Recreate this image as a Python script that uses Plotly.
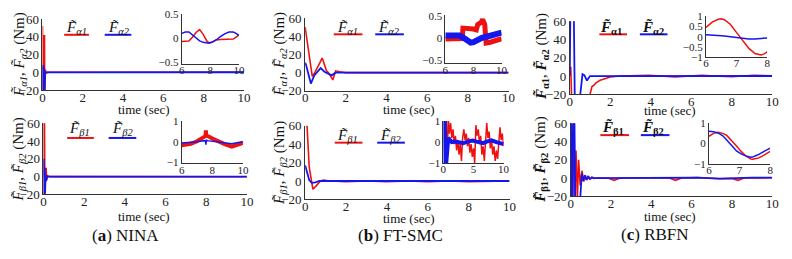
import plotly.graph_objects as go

W, H = 792, 259
RED = "#ee1111"
BLUE = "#1515ee"
SERIF = "Liberation Serif"

# ------------------------------------------------------------------ data
# (a) NINA – alpha forces (main)
t_a_alpha_red = [0, 0.01, 0.05, 0.06, 0.10, 0.11, 0.14, 0.18, 0.25, 1, 2, 3, 4, 5, 6, 7.25, 7.9, 9, 10]
f_a_alpha_red = [52, -25, -25, 41, 41, -25, 3, -1, 0, 0, 0, 0, 0, 0, -0.07, 0.18, -0.1, -0.03, 0.07]
t_a_alpha_blue = [0, 0.02, 0.04, 0.06, 0.08, 0.10, 0.13, 0.2, 1, 2, 3, 4, 5, 6, 6.5, 7.9, 9.5, 10]
f_a_alpha_blue = [8, -25, 8, -25, 5, -25, 0, 0, 0, 0, 0, 0, 0, 0.1, 0.13, -0.11, 0.13, 0.06]
# (a) alpha inset
t_a_alpha_zoom = [6, 6.25, 6.5, 6.75, 7.0, 7.25, 7.5, 7.75, 7.9, 8.1, 8.4, 8.7, 9.0, 9.3, 9.6, 9.8, 10]
f_a_alpha_red_zoom = [-0.07, -0.07, -0.06, 0.02, 0.12, 0.18, 0.08, -0.06, -0.1, -0.09, -0.04, -0.03, -0.03, -0.03, -0.02, 0.02, 0.07]
f_a_alpha_blue_zoom = [0.1, 0.13, 0.13, 0.07, -0.01, -0.06, -0.09, -0.11, -0.11, -0.09, -0.04, 0.03, 0.09, 0.13, 0.13, 0.1, 0.06]

# (a) NINA – beta forces (main)
t_a_beta_red = [0, 0.01, 0.03, 0.05, 0.07, 0.10, 0.13, 0.16, 0.2, 0.3, 1, 2, 3, 4, 5, 6, 7.66, 9.27, 10]
f_a_beta_red = [0, 65, -25, 65, -25, 0, 10, -4, 1, 0, 0, 0, 0, 0, 0, -0.17, 0.3, -0.24, -0.06]
t_a_beta_blue = [0, 0.02, 0.04, 0.06, 0.08, 0.10, 0.13, 0.16, 0.3, 1, 2, 3, 4, 5, 6, 7.66, 9.3, 10]
f_a_beta_blue = [0, 20, -25, 10, -18, 3, -5, 0, 0, 0, 0, 0, 0, 0, -0.06, 0.05, -0.1, 0]
# (a) beta inset
t_a_beta_zoom = [6, 6.3, 6.6, 7.0, 7.3, 7.55, 7.58, 7.61, 7.66, 8.0, 8.4, 8.8, 9.27, 9.6, 10]
f_a_beta_red_zoom = [-0.17, -0.15, -0.1, 0.02, 0.15, 0.27, 0.55, 0.25, 0.29, 0.15, 0.0, -0.12, -0.24, -0.15, -0.06]
f_a_beta_blue_zoom = [-0.06, -0.05, -0.03, 0.0, 0.03, 0.05, -0.15, 0.1, 0.05, 0.02, -0.03, -0.08, -0.1, -0.05, 0.0]

# (b) FT-SMC – alpha forces (main)
t_b_alpha_red = [0, 0.35, 0.45, 0.84, 1.05, 1.15, 1.36, 1.5, 1.7, 2.0, 3, 4, 5, 6, 7.25, 8.65, 8.85, 10]
f_b_alpha_red = [50, -4, -1, 16, 2, 0, -8, 2, 1, 0, 0, 0, 0, 0, 0.22, 0.42, -0.12, 0]
t_b_alpha_blue = [0, 0.05, 0.28, 0.45, 0.76, 0.95, 1.3, 1.5, 2, 3, 4, 5, 6, 7.8, 10]
f_b_alpha_blue = [11, 8, -12, -3, 5, 1, -3, 0, 0, 0, 0, 0, 0.05, -0.11, 0.12]
# (b) alpha inset
t_b_alpha_red_zoom = [6, 6.5, 7.0, 7.2, 7.25, 7.6, 8.0, 8.2, 8.3, 8.55, 8.65, 8.8, 8.9, 9.2, 9.6, 10]
f_b_alpha_red_zoom = [-0.03, -0.03, -0.02, -0.02, 0.22, 0.22, 0.2, 0.18, 0.3, 0.35, 0.42, 0.3, -0.12, -0.1, -0.06, -0.02]
t_b_alpha_blue_zoom = [6, 6.5, 7.0, 7.3, 7.6, 7.8, 8.0, 8.3, 8.6, 9.0, 9.5, 10]
f_b_alpha_blue_zoom = [0.05, 0.06, 0.05, 0.0, -0.08, -0.11, -0.1, -0.04, 0.0, 0.03, 0.07, 0.12]

# (b) FT-SMC – beta forces (main)
t_b_beta_red = [0, 0.08, 0.2, 0.38, 0.55, 0.75, 0.9, 1.2, 2, 3, 4, 5, 6, 7, 8, 9, 10]
f_b_beta_red = [70, 65, 15, -9, -5, 0, 1, 0, -0.8, 0, -0.8, 0, -0.8, 0, -0.8, 0, 0]
t_b_beta_blue = [0, 0.2, 0.32, 0.5, 0.7, 1, 2, 4, 6, 8, 10]
f_b_beta_blue = [17, 1, -2, -1.5, 0, 0, 0, 0, 0, 0, 0]
# (b) beta inset
t_b_beta_red_zoom = [0.45, 0.6, 0.8, 1.0, 1.2, 1.4, 1.6, 1.8, 2.0, 2.2, 2.4, 2.6, 2.8, 3.0, 3.2, 3.4,
                     3.6, 3.8, 4.0, 4.2, 4.4, 4.6, 4.8, 5.0, 5.2, 5.4, 5.6, 5.8, 6.0, 6.2, 6.4, 6.6,
                     6.8, 7.0, 7.2, 7.4, 7.6, 7.8, 8.0, 8.2, 8.4, 8.6, 8.8, 9.0, 9.2, 9.4, 9.6, 9.8, 10.0]
f_b_beta_red_zoom = [1.5, -1.5, 1.2, 0.4, 0.9, 0.2, 0.6, -0.1, 0.3, -0.4, 0.1, -0.6, -0.1, -0.9, 0.2, 0.6,
                     0.1, 0.4, -0.2, 0.2, -0.5, -0.1, -0.7, -0.3, -1.0, 0.8, 0.3, 0.6, -0.1, 0.3, -0.6, -0.2,
                     -0.9, 0.3, 0.9, 0.2, 0.5, -0.3, 0.1, -0.6, -0.2, -0.9, -0.4, -0.8, 0.2, 0.7, 0.1, 0.4, -0.2]
t_b_beta_blue_zoom = [0.2, 0.35, 0.5, 0.82, 1.1, 1.4, 2.0, 2.5, 3.3, 4.0, 4.9, 5.5, 6.0, 6.6, 7.2, 8.0, 8.8, 9.4, 10]
f_b_beta_blue_zoom = [1.5, -1.5, -0.9, 0.2, 0.1, 0.0, 0.02, -0.02, -0.05, 0.02, 0.07, 0.02, 0.0, -0.05, 0.02, 0.08, 0.0, -0.05, -0.1]

# (c) RBFN – alpha forces (main)
t_c_alpha_red = [0, 0.05, 0.1, 0.93, 1.0, 1.1, 1.2, 1.27, 1.5, 1.7, 2.0, 2.5, 3, 3.9, 5.2, 6.0, 6.55, 7.14, 7.84, 8.0, 9.1, 10]
f_c_alpha_red = [0, 10, -30, -30, -20, -11.5, -10, -8, -4.5, -3, -1.1, 0, 0.3, 0.9, -0.9, 0.45, 0.88, 0, -0.92, -0.75, 0.9, 0.3]
t_c_alpha_blue = [0, 0.03, 0.2, 0.25, 0.47, 0.63, 0.72, 0.85, 1.0, 1.5, 3, 6, 7.4, 8, 10]
f_c_alpha_blue = [0, 70, 70, -30, -30, 2, 1, -5, 0, 0, 0, 0.08, -0.12, -0.06, 0.05]
# (c) alpha inset
t_c_alpha_zoom = [6, 6.2, 6.4, 6.5, 6.6, 6.8, 7.0, 7.2, 7.4, 7.6, 7.8, 7.9, 8.0]
f_c_alpha_red_zoom = [0.45, 0.72, 0.86, 0.88, 0.84, 0.6, 0.2, -0.2, -0.58, -0.83, -0.9, -0.85, -0.75]
f_c_alpha_blue_zoom = [0.1, 0.09, 0.07, 0.05, 0.03, -0.01, -0.06, -0.1, -0.12, -0.11, -0.09, -0.08, -0.06]

# (c) RBFN – beta forces (main)
t_c_beta_red = [0, 0.08, 0.15, 0.2, 0.26, 0.33, 0.39, 0.47, 0.56, 0.64, 0.72, 0.8, 0.88, 0.96, 1.05, 1.15, 1.3,
                1.6, 1.85, 2.15, 2.45, 3, 4, 4.9, 5.2, 5.5, 6.3, 7.42, 8.0, 8.3, 8.6, 9.2, 10]
f_c_beta_red = [0, -25, 70, -25, 30, -22, 20, -8, 8, -4, 3, -2, 2, -1, 1, -0.5, 0,
                0, 0, -2.5, 0, 0.3, 0.5, 0, -2.5, 0, 0.6, -0.77, -0.4, -2.5, 0, 0.3, 0.3]
t_c_beta_blue = [0, 0.02, 0.05, 0.1, 0.12, 0.18, 0.23, 0.45, 0.55, 0.62, 0.7, 0.78, 0.86, 0.95, 1.05, 1.2,
                 1.5, 3, 4.5, 6.0, 6.26, 7.37, 8.0, 9, 10]
f_c_beta_blue = [-5, 70, -30, -30, 70, 70, -30, -30, 5, -3, 3, -2, 1.5, -1, 0.5, 0,
                 0, 0, 0, 0.69, 0.58, -0.66, -0.18, 0.4, 0.5]
# (c) beta inset
t_c_beta_zoom = [6, 6.15, 6.3, 6.45, 6.58, 6.75, 6.9, 7.05, 7.2, 7.37, 7.42, 7.58, 7.63, 7.8, 8.0]
f_c_beta_red_zoom = [0.36, 0.5, 0.55, 0.5, 0.4, 0.15, -0.12, -0.38, -0.6, -0.76, -0.77, -0.72, -0.7, -0.56, -0.38]
f_c_beta_blue_zoom = [0.6, 0.58, 0.52, 0.38, 0.18, -0.1, -0.36, -0.5, -0.6, -0.67, -0.66, -0.56, -0.53, -0.38, -0.22]

# ticks
main_xticks = [0, 2, 4, 6, 8, 10]
main_yticks = [-20, 0, 20, 40, 60]

# ------------------------------------------------------------------ layout helpers
def px(x):
    return x / W


def py(y):
    return 1 - y / H


# (x-left, x-right, y-top, y-bottom) in pixels for each axis pair
main_boxes = [
    (40, 244, 12.7, 88.2),
    (41, 247, 123.3, 199),
    (306, 512, 11.7, 89),
    (306, 513, 126, 204.3),
    (574, 779, 15, 92.7),
    (575, 779, 123.3, 201),
]
inset_boxes = [
    (181, 239, 7, 60.5),
    (181, 243, 121, 166),
    (448, 505, 8.4, 59.8),
    (446, 507, 121, 165.7),
    (712, 774, 10, 53),
    (715, 777, 123.3, 166.7),
]
inset_xrange = [[6, 10], [6, 10], [6, 10], [0, 10], [6, 8], [6, 8]]
inset_yrange = [[-0.55, 0.52], [-1.05, 1.0], [-0.58, 0.52], [-1, 1], [-1, 1], [-1, 1]]
inset_xticks = [[6, 8, 10], [6, 8, 10], [6, 8, 10], [0, 5, 10], [6, 7, 8], [6, 7, 8]]
inset_yticks = [[-0.5, 0, 0.5], [-1, 0, 1], [-0.5, 0, 0.5], [-1, 0, 1],
                [-1, -0.5, 0, 0.5, 1], [-1, 0, 1]]

fig = go.Figure()


def add(n, t, f, color, width):
    s = "" if n == 1 else str(n)
    fig.add_trace(go.Scatter(x=t, y=f, mode="lines", line=dict(color=color, width=width),
                             xaxis="x" + s, yaxis="y" + s, showlegend=False, hoverinfo="skip"))


main_data = [
    (t_a_alpha_red, f_a_alpha_red, t_a_alpha_blue, f_a_alpha_blue),
    (t_a_beta_red, f_a_beta_red, t_a_beta_blue, f_a_beta_blue),
    (t_b_alpha_red, f_b_alpha_red, t_b_alpha_blue, f_b_alpha_blue),
    (t_b_beta_red, f_b_beta_red, t_b_beta_blue, f_b_beta_blue),
    (t_c_alpha_red, f_c_alpha_red, t_c_alpha_blue, f_c_alpha_blue),
    (t_c_beta_red, f_c_beta_red, t_c_beta_blue, f_c_beta_blue),
]
inset_data = [
    (t_a_alpha_zoom, f_a_alpha_red_zoom, t_a_alpha_zoom, f_a_alpha_blue_zoom, 1.5, 1.5),
    (t_a_beta_zoom, f_a_beta_red_zoom, t_a_beta_zoom, f_a_beta_blue_zoom, 4, 1.5),
    (t_b_alpha_red_zoom, f_b_alpha_red_zoom, t_b_alpha_blue_zoom, f_b_alpha_blue_zoom, 5, 6),
    (t_b_beta_red_zoom, f_b_beta_red_zoom, t_b_beta_blue_zoom, f_b_beta_blue_zoom, 1.5, 4),
    (t_c_alpha_zoom, f_c_alpha_red_zoom, t_c_alpha_zoom, f_c_alpha_blue_zoom, 1.5, 1.5),
    (t_c_beta_zoom, f_c_beta_red_zoom, t_c_beta_zoom, f_c_beta_blue_zoom, 1.5, 1.5),
]

layout = {}
common_axis = dict(showline=True, linecolor="#333", linewidth=1, ticks="", ticklen=0, showgrid=False,
                   zeroline=False, fixedrange=True)

for i, (tr, fr, tb, fb) in enumerate(main_data):
    n = i + 1
    add(n, tr, fr, RED, 1.6)
    add(n, tb, fb, BLUE, 1.8)
    x0, x1, yt, yb = main_boxes[i]
    s = "" if n == 1 else str(n)
    layout["xaxis" + s] = dict(common_axis, domain=[px(x0), px(x1)], range=[0, 10], anchor="y" + s,
                               tickvals=main_xticks, ticklabelstandoff=-5,
                               tickfont=dict(family=SERIF, size=13, color="#222"))
    layout["yaxis" + s] = dict(common_axis, domain=[py(yb), py(yt)], range=[-20, 60], anchor="x" + s,
                               tickvals=main_yticks,
                               tickfont=dict(family=SERIF, size=13, color="#222"))

for i, (tr, fr, tb, fb, wr, wb) in enumerate(inset_data):
    n = i + 7
    add(n, tr, fr, RED, wr)
    add(n, tb, fb, BLUE, wb)
    x0, x1, yt, yb = inset_boxes[i]
    s = str(n)
    layout["xaxis" + s] = dict(common_axis, domain=[px(x0), px(x1)], range=inset_xrange[i],
                               anchor="y" + s, tickvals=inset_xticks[i], ticklabelstandoff=-4,
                               tickfont=dict(family=SERIF, size=11, color="#222"))
    layout["yaxis" + s] = dict(common_axis, domain=[py(yb), py(yt)], range=inset_yrange[i],
                               anchor="x" + s, tickvals=inset_yticks[i],
                               tickfont=dict(family=SERIF, size=11, color="#222"))

# ------------------------------------------------------------------ texts
FT = "F\u0303"
annotations = []
shapes = []


def ann(x, y, text, size=13, angle=0):
    annotations.append(dict(x=px(x), y=py(y), xref="paper", yref="paper", text=text,
                            showarrow=False, xanchor="center", yanchor="middle", textangle=angle,
                            font=dict(family=SERIF, size=size, color="#111")))


def lab(sym, k, bold=False):
    if bold:
        return f"<b><i>{FT}</i><sub>{sym}{k}</sub></b>"
    return f"<i>{FT}<sub>{sym}{k}</sub></i>"


# y titles
ytitles = [
    (17, 50, "α", False), (16, 162, "β", False),
    (281, 50, "α", False), (281, 165, "β", False),
    (546, 53, "α", True), (545, 162, "β", True),
]
for x, y, sym, b in ytitles:
    ann(x, y, f"{lab(sym, 1, b)}, {lab(sym, 2, b)} (Nm)", size=15, angle=-90)

# x titles
for x, y in [(143, 109), (143, 222), (411, 109), (411, 224), (676, 110), (676, 222)]:
    ann(x, y, "time (sec)", size=13)

# legends: (red text x, red line x0, x1, blue text x, blue line x0, x1, text y, line y)
legends = [
    (74, 62, 87, 117, 103, 130, 22, 29.5, "α", False),
    (77, 65, 92, 121, 107, 135, 130, 139, "β", False),
    (349, 335, 364, 391, 377, 406, 22, 29, "α", False),
    (349, 336, 364, 392, 379, 407, 137, 144, "β", False),
    (616, 604, 632, 658, 645, 673, 22, 29, "α", True),
    (618, 605, 634, 658, 646, 675, 128, 136, "β", True),
]
for rx, rl0, rl1, bx, bl0, bl1, ty, ly, sym, b in legends:
    ann(rx, ty, lab(sym, 1, b), size=15)
    ann(bx, ty, lab(sym, 2, b), size=15)
    shapes.append(dict(type="line", xref="paper", yref="paper", x0=px(rl0), x1=px(rl1),
                       y0=py(ly), y1=py(ly), line=dict(color=RED, width=2)))
    shapes.append(dict(type="line", xref="paper", yref="paper", x0=px(bl0), x1=px(bl1),
                       y0=py(ly), y1=py(ly), line=dict(color=BLUE, width=2)))

# captions
ann(124, 243, "(<b>a</b>) NINA", size=17)
ann(403, 243, "(<b>b</b>) FT-SMC", size=17)
ann(660, 242, "(<b>c</b>) RBFN", size=17)

fig.update_layout(
    width=W, height=H, margin=dict(l=0, r=0, t=0, b=0),
    paper_bgcolor="white", plot_bgcolor="rgba(0,0,0,0)",
    annotations=annotations, shapes=shapes, showlegend=False,
    **layout,
)

fig.write_html("out.html", config={"displayModeBar": False},
               post_script="document.body.style.margin='0';document.body.style.overflow='hidden';")
